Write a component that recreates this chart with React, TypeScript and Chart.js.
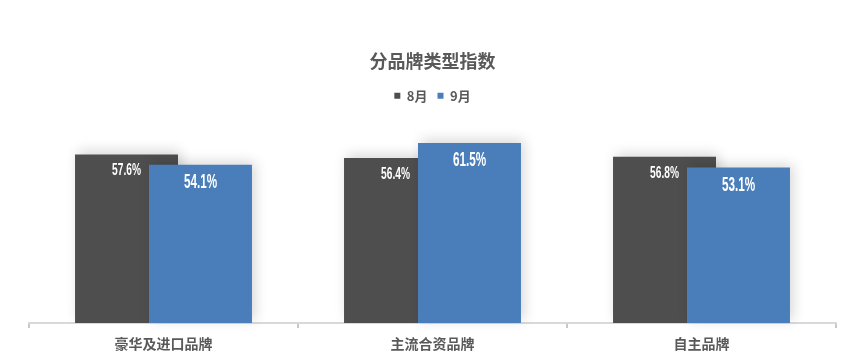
import React, { useEffect, useRef } from "react";
import { Chart, registerables } from "chart.js";

Chart.register(...registerables);

const categories = ["豪华及进口品牌", "主流合资品牌", "自主品牌"];
const seriesNames = ["8月", "9月"];
const augValues = [57.6, 56.4, 56.8];
const sepValues = [54.1, 61.5, 53.1];

const DARK = "#4e4e4e";
const BLUE = "#4a7ebb";
const CJK = '"Noto Sans CJK SC", "Noto Sans", sans-serif';

function setShadow(ctx: CanvasRenderingContext2D) {
  ctx.shadowColor = "rgba(0,0,0,0.16)";
  ctx.shadowBlur = 12;
  ctx.shadowOffsetX = 3;
  ctx.shadowOffsetY = -3;
}

// Draw dataset 1 (9月) on top of dataset 0 (8月), both with a soft shadow.
const shadowPlugin = {
  id: "barShadow",
  beforeDatasetDraw(chart: any, args: any) {
    if (args.index === 1) return false;
    chart.ctx.save();
    setShadow(chart.ctx);
  },
  afterDatasetDraw(chart: any, args: any) {
    if (args.index !== 0) return;
    const ctx = chart.ctx;
    ctx.restore();
    ctx.save();
    setShadow(ctx);
    chart.getDatasetMeta(1).controller.draw();
    ctx.restore();
  },
};

const labelPlugin = {
  id: "barLabels",
  afterDatasetsDraw(chart: any) {
    const ctx = chart.ctx;
    const cfg = [
      { idx: 0, size: 17, off: 21 },
      { idx: 1, size: 19.5, off: 23 },
    ];
    cfg.forEach(({ idx, size, off }) => {
      const meta = chart.getDatasetMeta(idx);
      const data = chart.data.datasets[idx].data;
      meta.data.forEach((bar: any, j: number) => {
        const v = data[j];
        if (v == null) return;
        const { x, y } = bar.getProps(["x", "y"], true);
        ctx.save();
        ctx.translate(x, y + off);
        ctx.scale(0.6, 1);
        ctx.font = `bold ${size}px "Liberation Sans", Arial, sans-serif`;
        ctx.textAlign = "center";
        ctx.textBaseline = "alphabetic";
        ctx.fillStyle = "#ffffff";
        ctx.fillText(`${Number(v).toFixed(1)}%`, 0, 0);
        ctx.restore();
      });
    });
  },
};

export default function App() {
  const ref = useRef<HTMLCanvasElement | null>(null);

  useEffect(() => {
    if (!ref.current) return;
    const chart = new Chart(ref.current, {
      type: "bar",
      data: {
        labels: categories,
        datasets: [
          {
            label: seriesNames[0],
            data: augValues,
            backgroundColor: DARK,
            borderWidth: 0,
          },
          {
            label: seriesNames[1],
            data: sepValues,
            backgroundColor: BLUE,
            borderWidth: 0,
          },
        ] as any,
      },
      options: {
        responsive: false,
        animation: false,
        devicePixelRatio: 1,
        datasets: { bar: { categoryPercentage: 0.55, barPercentage: 1.392 } },
        layout: { padding: { left: 29, right: 29, top: 0, bottom: 1.2 } },
        plugins: {
          title: {
            display: true,
            text: "分品牌类型指数",
            color: "#595959",
            font: { family: CJK, size: 18, weight: "bold", lineHeight: 1.2 },
            padding: { top: 50, bottom: 7.7 },
          },
          legend: {
            display: true,
            labels: {
              boxWidth: 6,
              boxHeight: 6,
              padding: 10,
              color: "#595959",
              font: { family: CJK, size: 13, weight: "bold" },
            },
          },
          tooltip: { enabled: false },
        },
        scales: {
          x: {
            type: "category",
            position: "bottom",
            offset: true,
            grid: {
              display: true,
              drawOnChartArea: false,
              drawTicks: true,
              tickLength: 5,
              color: "#c8c8c8",
              lineWidth: 2,
              offset: true,
            },
            border: { display: true, color: "#d9d9d9", width: 2 },
            ticks: {
              color: "#595959",
              padding: 7,
              font: { family: CJK, size: 14, weight: "bold", lineHeight: 1.2 },
            },
          },
          y: {
            display: false,
            min: 0,
            max: 72,
          },
        },
      } as any,
      plugins: [shadowPlugin, labelPlugin],
    });
    return () => chart.destroy();
  }, []);

  return (
    <div style={{ position: "fixed", left: 0, top: 0, width: 865, height: 360, background: "#fff" }}>
      <canvas ref={ref} width={865} height={360} style={{ display: "block" }} />
    </div>
  );
}
